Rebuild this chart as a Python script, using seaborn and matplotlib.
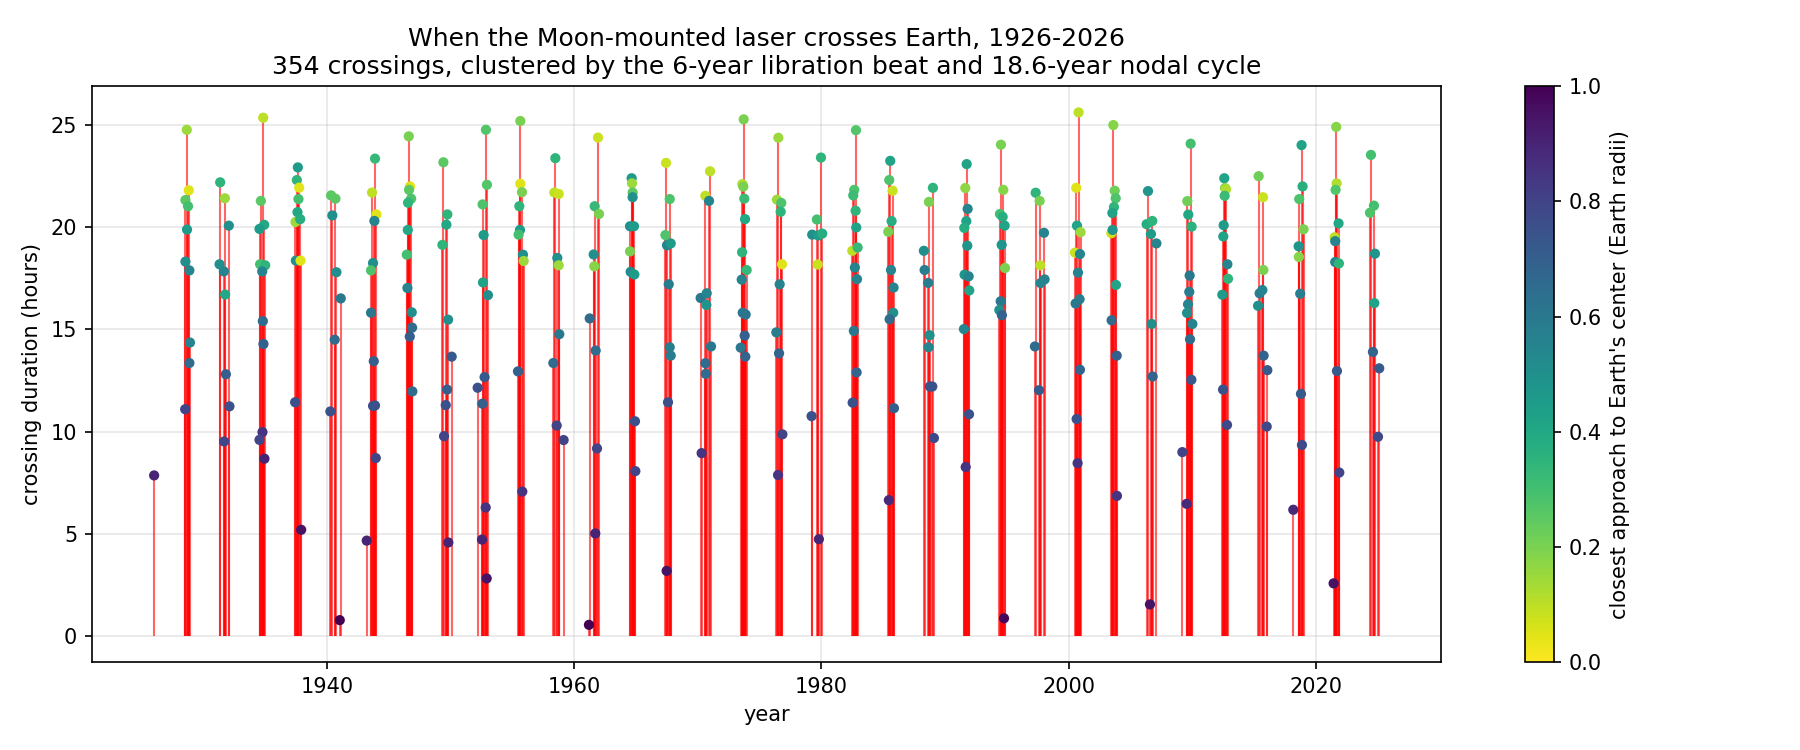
import numpy as np
import pandas as pd
import matplotlib
matplotlib.use("Agg")
import matplotlib.pyplot as plt
import seaborn as sns
from matplotlib.cm import ScalarMappable
from matplotlib.colors import Normalize

# crossing epoch (decimal year)
year = [
    1926.04,
    1928.68, 1928.84, 1928.57, 1928.78, 1928.70, 1928.57, 1928.89, 1928.94, 1928.89, 1928.55,
    1931.38, 1931.76, 1932.08, 1931.33, 1931.68, 1931.78, 1931.84, 1932.13, 1931.70,
    1934.86, 1934.67, 1934.94, 1934.56, 1934.61, 1935.02, 1934.78, 1934.83, 1934.88, 1934.80, 1934.56, 1934.96,
    1937.66, 1937.58, 1937.77, 1937.71, 1937.63, 1937.47, 1937.85, 1937.50, 1937.88, 1937.44, 1937.93,
    1940.35, 1940.70, 1940.45, 1940.78, 1941.13, 1940.64, 1940.29, 1941.05,
    1943.90, 1943.66, 1944.01, 1943.85, 1943.74, 1943.58, 1943.58, 1943.80, 1943.74, 1943.90, 1943.96, 1943.23,
    1946.63, 1946.73, 1946.65, 1946.82, 1946.57, 1946.55, 1946.47, 1946.52, 1946.87, 1946.90, 1946.71, 1946.92,
    1949.43, 1949.75, 1949.67, 1949.35, 1949.81, 1950.10, 1949.73, 1949.62, 1949.48, 1949.83,
    1952.87, 1952.95, 1952.60, 1952.68, 1952.63, 1953.03, 1952.76, 1952.20, 1952.58, 1952.85, 1952.55, 1952.93,
    1955.65, 1955.65, 1955.78, 1955.57, 1955.62, 1955.51, 1955.86, 1955.92, 1955.46, 1955.81,
    1958.48, 1958.40, 1958.75, 1958.64, 1958.75, 1958.80, 1958.32, 1958.59, 1959.15,
    1961.93, 1961.66, 1962.01, 1961.58, 1961.63, 1961.26, 1961.74, 1961.85, 1961.71, 1961.20,
    1964.65, 1964.68, 1964.73, 1964.73, 1964.52, 1964.84, 1964.52, 1964.57, 1964.87, 1964.92, 1964.95,
    1967.43, 1967.73, 1967.38, 1967.51, 1967.81, 1967.65, 1967.73, 1967.81, 1967.59, 1967.48,
    1970.99, 1970.61, 1970.91, 1970.23, 1970.72, 1970.69, 1971.07, 1970.61, 1970.64, 1970.31,
    1973.71, 1973.60, 1973.68, 1973.76, 1973.82, 1973.58, 1973.95, 1973.55, 1973.63, 1973.87, 1973.79, 1973.47, 1973.84,
    1976.51, 1976.40, 1976.75, 1976.70, 1976.81, 1976.62, 1976.35, 1976.57, 1976.84, 1976.49,
    1979.96, 1979.63, 1979.25, 1979.74, 1980.06, 1979.69, 1979.20, 1979.79,
    1982.79, 1982.65, 1982.57, 1982.76, 1982.81, 1982.49, 1982.92, 1982.70, 1982.87, 1982.62, 1982.84, 1982.52,
    1985.56, 1985.48, 1985.75, 1985.67, 1985.40, 1985.62, 1985.83, 1985.80, 1985.51, 1985.86, 1985.45,
    1989.01, 1988.69, 1988.28, 1988.34, 1988.63, 1988.74, 1988.66, 1988.77, 1988.96, 1989.09,
    1991.74, 1991.63, 1991.82, 1991.71, 1991.55, 1991.79, 1991.57, 1991.90, 1991.95, 1991.52, 1991.93, 1991.66,
    1994.51, 1994.70, 1994.43, 1994.65, 1994.81, 1994.57, 1994.84, 1994.49, 1994.38, 1994.59, 1994.76,
    1997.32, 1997.64, 1997.99, 1997.69, 1997.72, 1998.04, 1997.26, 1997.59,
    2000.79, 2000.60, 2000.66, 2000.95, 2000.50, 2000.90, 2000.74, 2000.87, 2000.55, 2000.90, 2000.63, 2000.71,
    2003.60, 2003.71, 2003.79, 2003.65, 2003.52, 2003.44, 2003.54, 2003.81, 2003.46, 2003.87, 2003.89,
    2006.40, 2006.29, 2006.75, 2006.64, 2007.08, 2006.70, 2006.78, 2006.56,
    2009.85, 2009.58, 2009.66, 2009.93, 2009.77, 2009.74, 2009.64, 2009.56, 2009.99, 2009.80, 2009.91, 2009.18, 2009.53,
    2012.57, 2012.63, 2012.71, 2012.60, 2012.52, 2012.49, 2012.82, 2012.87, 2012.41, 2012.47, 2012.79,
    2015.35, 2015.70, 2015.73, 2015.43, 2015.65, 2015.30, 2015.75, 2016.05, 2016.00,
    2018.82, 2018.90, 2018.63, 2018.98, 2018.58, 2018.60, 2018.71, 2018.77, 2018.85, 2018.15,
    2021.62, 2021.65, 2021.57, 2021.81, 2021.49, 2021.54, 2021.54, 2021.84, 2021.68, 2021.87, 2021.41,
    2024.43, 2024.67, 2024.35, 2024.75, 2024.70, 2024.59, 2025.10, 2025.00,
]

# crossing duration (hours)
duration = [
    7.86,
    24.77, 21.81, 21.33, 21.03, 19.89, 18.32, 17.89, 14.36, 13.36, 11.10,
    22.20, 21.42, 20.08, 18.19, 17.84, 16.71, 12.81, 11.24, 9.52,
    25.36, 21.29, 20.12, 19.92, 18.19, 18.14, 17.84, 15.41, 14.29, 9.98, 9.60, 8.68,
    22.93, 22.31, 21.94, 21.38, 20.74, 20.26, 20.40, 18.37, 18.37, 11.44, 5.20,
    21.56, 21.40, 20.58, 17.80, 16.52, 14.50, 10.99, 0.78,
    23.36, 21.70, 20.63, 20.31, 18.25, 17.89, 15.82, 13.45, 11.26, 11.28, 8.71, 4.67,
    24.45, 22.00, 21.83, 21.40, 21.20, 19.87, 18.66, 17.03, 15.84, 15.09, 14.65, 11.97,
    23.18, 20.63, 20.13, 19.14, 15.48, 13.67, 12.06, 11.30, 9.78, 4.58,
    24.77, 22.08, 21.12, 19.62, 17.30, 16.68, 12.67, 12.15, 11.37, 6.29, 4.72, 2.82,
    25.20, 22.13, 21.72, 21.03, 19.87, 19.64, 18.66, 18.35, 12.95, 7.07,
    23.38, 21.70, 21.63, 18.50, 18.14, 14.77, 13.36, 10.30, 9.59,
    24.39, 21.03, 20.65, 18.67, 18.09, 15.54, 13.97, 9.18, 5.02, 0.55,
    22.40, 22.15, 21.70, 21.47, 20.05, 20.05, 18.82, 17.82, 17.69, 10.51, 8.07,
    23.15, 21.38, 19.62, 19.12, 19.21, 17.21, 14.13, 13.72, 11.44, 3.19,
    22.74, 21.54, 21.29, 16.54, 16.77, 16.20, 14.17, 13.35, 12.83, 8.95,
    25.28, 22.11, 21.99, 21.40, 20.40, 18.78, 17.91, 17.44, 15.82, 15.73, 14.70, 14.11, 13.67,
    24.38, 21.35, 21.19, 20.76, 18.19, 17.21, 14.86, 13.83, 9.87, 7.88,
    23.41, 20.38, 19.64, 19.60, 19.69, 18.18, 10.76, 4.74,
    24.75, 21.83, 21.56, 20.81, 19.99, 18.85, 19.01, 18.03, 17.46, 14.93, 12.90, 11.42,
    23.25, 22.31, 21.79, 20.30, 19.78, 17.91, 17.05, 15.82, 15.50, 11.15, 6.65,
    21.93, 21.24, 18.85, 17.91, 17.28, 14.72, 14.13, 12.21, 12.21, 9.69,
    23.09, 21.92, 20.90, 20.30, 19.97, 19.10, 17.68, 17.60, 16.91, 15.02, 10.85, 8.27,
    24.04, 21.83, 20.65, 20.51, 20.08, 19.14, 18.01, 16.38, 15.95, 15.70, 0.87,
    21.69, 21.29, 19.73, 18.14, 17.27, 17.45, 14.17, 12.03,
    25.62, 21.93, 20.08, 19.76, 18.76, 18.69, 17.78, 16.48, 16.27, 13.03, 10.62, 8.46,
    25.00, 21.79, 21.42, 20.99, 20.70, 19.71, 19.87, 17.18, 15.45, 13.72, 6.86,
    21.77, 20.15, 20.31, 19.67, 19.21, 15.27, 12.70, 1.55,
    24.09, 21.28, 20.62, 20.03, 17.64, 16.84, 16.23, 15.81, 15.27, 14.52, 12.54, 9.00, 6.47,
    22.40, 21.92, 21.86, 21.54, 20.10, 19.55, 18.19, 17.48, 16.70, 12.06, 10.33,
    22.50, 21.47, 17.91, 16.77, 16.93, 16.16, 13.72, 13.01, 10.25,
    24.02, 22.00, 21.38, 19.90, 19.07, 18.55, 16.75, 11.85, 9.35, 6.18,
    24.91, 22.15, 21.83, 20.19, 19.51, 19.32, 18.30, 18.23, 12.97, 8.00, 2.58,
    23.54, 21.06, 20.71, 18.71, 16.29, 13.90, 13.10, 9.75,
]

# closest approach to Earth's center (Earth radii)
approach = [
    0.90,
    0.15, 0.05, 0.25, 0.30, 0.45, 0.50, 0.55, 0.55, 0.65, 0.80,
    0.35, 0.15, 0.50, 0.50, 0.55, 0.40, 0.70, 0.75, 0.80,
    0.10, 0.25, 0.40, 0.45, 0.30, 0.35, 0.55, 0.65, 0.70, 0.85, 0.80, 0.90,
    0.45, 0.35, 0.05, 0.30, 0.40, 0.15, 0.38, 0.50, 0.05, 0.75, 0.95,
    0.25, 0.25, 0.50, 0.50, 0.60, 0.65, 0.75, 1.00,
    0.33, 0.10, 0.05, 0.55, 0.50, 0.28, 0.60, 0.70, 0.75, 0.75, 0.80, 0.90,
    0.20, 0.05, 0.25, 0.28, 0.35, 0.40, 0.30, 0.55, 0.50, 0.65, 0.70, 0.65,
    0.25, 0.35, 0.40, 0.35, 0.50, 0.72, 0.70, 0.75, 0.80, 0.90,
    0.27, 0.27, 0.28, 0.45, 0.42, 0.50, 0.72, 0.75, 0.70, 0.85, 0.90, 0.95,
    0.20, 0.05, 0.20, 0.35, 0.45, 0.30, 0.50, 0.15, 0.70, 0.85,
    0.35, 0.10, 0.08, 0.50, 0.15, 0.60, 0.65, 0.80, 0.80,
    0.08, 0.33, 0.20, 0.50, 0.18, 0.65, 0.65, 0.80, 0.90, 1.00,
    0.45, 0.15, 0.25, 0.50, 0.50, 0.45, 0.20, 0.52, 0.45, 0.75, 0.80,
    0.08, 0.28, 0.28, 0.55, 0.45, 0.58, 0.58, 0.58, 0.75, 0.95,
    0.10, 0.10, 0.55, 0.60, 0.55, 0.48, 0.60, 0.65, 0.65, 0.85,
    0.20, 0.12, 0.20, 0.32, 0.40, 0.35, 0.33, 0.55, 0.60, 0.62, 0.70, 0.60, 0.68,
    0.15, 0.15, 0.28, 0.35, 0.05, 0.55, 0.58, 0.68, 0.80, 0.85,
    0.35, 0.30, 0.50, 0.45, 0.38, 0.08, 0.75, 0.90,
    0.27, 0.28, 0.32, 0.35, 0.42, 0.10, 0.33, 0.55, 0.55, 0.60, 0.68, 0.75,
    0.42, 0.28, 0.08, 0.38, 0.20, 0.55, 0.55, 0.50, 0.65, 0.70, 0.88,
    0.35, 0.20, 0.50, 0.58, 0.58, 0.50, 0.55, 0.75, 0.75, 0.78,
    0.42, 0.17, 0.55, 0.42, 0.38, 0.48, 0.48, 0.55, 0.42, 0.55, 0.75, 0.85,
    0.20, 0.18, 0.30, 0.37, 0.42, 0.48, 0.20, 0.60, 0.50, 0.68, 0.98,
    0.35, 0.20, 0.55, 0.10, 0.55, 0.55, 0.65, 0.72,
    0.10, 0.05, 0.42, 0.15, 0.08, 0.55, 0.55, 0.58, 0.60, 0.68, 0.75, 0.85,
    0.18, 0.22, 0.28, 0.35, 0.42, 0.08, 0.48, 0.42, 0.65, 0.70, 0.85,
    0.48, 0.38, 0.35, 0.45, 0.55, 0.50, 0.68, 0.95,
    0.30, 0.22, 0.40, 0.36, 0.60, 0.58, 0.55, 0.50, 0.55, 0.65, 0.72, 0.80, 0.88,
    0.42, 0.18, 0.12, 0.32, 0.45, 0.42, 0.55, 0.35, 0.45, 0.75, 0.78,
    0.22, 0.08, 0.20, 0.58, 0.55, 0.50, 0.68, 0.72, 0.78,
    0.42, 0.37, 0.28, 0.20, 0.48, 0.18, 0.58, 0.72, 0.78, 0.88,
    0.18, 0.12, 0.27, 0.40, 0.10, 0.55, 0.55, 0.35, 0.72, 0.80, 0.95,
    0.30, 0.30, 0.28, 0.48, 0.42, 0.68, 0.72, 0.78,
]

df = pd.DataFrame({"year": year, "duration": duration, "approach": approach})

plt.rcParams["font.family"] = ["DejaVu Sans"]
fig = plt.figure(figsize=(12, 5), dpi=150)

ax = fig.add_axes([0.051, 0.117, 0.7496, 0.768])
cax = fig.add_axes([0.847, 0.117, 0.0165, 0.768])

ax.vlines(df["year"], 0, df["duration"], color="red", alpha=0.6, linewidth=1.0, zorder=2)
sns.scatterplot(data=df, x="year", y="duration", hue="approach", palette="viridis_r",
                hue_norm=(0, 1), s=24, linewidth=0, legend=False, ax=ax, zorder=3)

ax.grid(True, alpha=0.3)
ax.set_axisbelow(True)
ax.set_xlim(1921.0, 2030.1)
ax.set_ylim(-1.28, 26.9)
ax.set_xticks([1940, 1960, 1980, 2000, 2020])
ax.set_yticks([0, 5, 10, 15, 20, 25])
ax.set_xlabel("year")
ax.set_ylabel("crossing duration (hours)")
ax.set_title("When the Moon-mounted laser crosses Earth, 1926-2026\n"
             "354 crossings, clustered by the 6-year libration beat and 18.6-year nodal cycle",
             fontsize=12)

sm = ScalarMappable(norm=Normalize(0, 1), cmap="viridis_r")
cb = fig.colorbar(sm, cax=cax)
cb.set_label("closest approach to Earth's center (Earth radii)")

fig.savefig("out.png", dpi=150)
